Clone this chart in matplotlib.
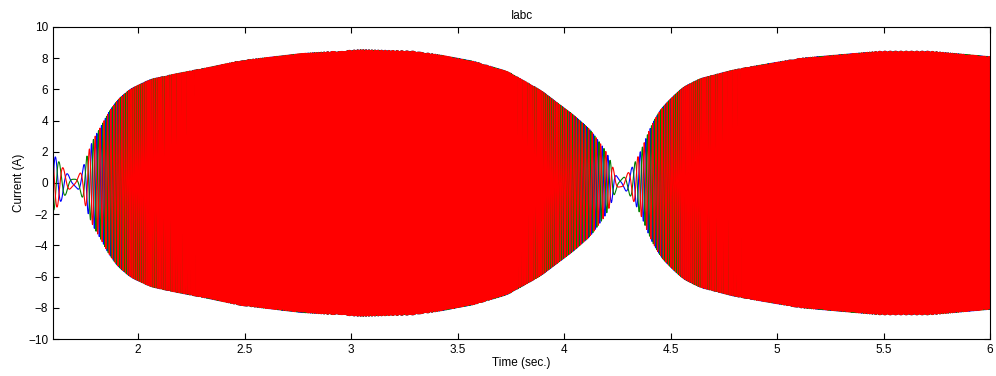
import numpy as np
import matplotlib.pyplot as plt

plt.rcParams['font.family'] = ['Liberation Sans', 'DejaVu Sans']

# envelope (peak current, A)
t_knots = [1.60, 1.65, 1.70, 1.74, 1.78, 1.827, 1.859, 1.906, 1.967, 2.061, 2.169, 2.328,
           2.483, 2.764, 3.046, 3.30, 3.421, 3.576, 3.735, 3.89, 4.045, 4.124, 4.204,
           4.256, 4.312, 4.359, 4.406, 4.452, 4.50, 4.56, 4.64, 4.795, 4.875, 5.109,
           5.484, 5.719, 6.00]
amp_knots = [1.95, 0.9, 0.05, 0.9, 2.6, 3.65, 4.5, 5.37, 6.06, 6.66, 6.98, 7.4,
             7.85, 8.3, 8.55, 8.45, 8.2, 7.8, 7.15, 5.95, 4.35, 3.4, 1.9,
             0.05, 0.8, 2.0, 3.6, 4.7, 5.4, 6.15, 6.7, 7.25, 7.45, 8.0,
             8.45, 8.45, 8.1]
# electrical frequency of the current (Hz), rough estimate
freq_knots = [22, 16, 10, 18, 35, 50, 65, 80, 100, 115, 125, 138,
              148, 160, 170, 168, 162, 152, 138, 115, 80, 60, 34,
              10, 18, 32, 55, 75, 90, 105, 115, 130, 135, 150,
              165, 165, 158]

fs = 4000
t = np.arange(1.6, 6.0 + 1 / fs, 1 / fs)
amp = np.interp(t, t_knots, amp_knots)
win = 161
amp = np.convolve(np.pad(amp, win // 2, mode='reflect'), np.ones(win) / win, mode='valid')
freq = np.interp(t, t_knots, freq_knots)
phase = 2 * np.pi * np.cumsum(freq) / fs

fig = plt.figure(figsize=(9.96, 3.76), dpi=100)
ax = fig.add_axes([0.0532, 0.0984, 0.9408, 0.8298])

colors = ['#0000ff', '#008000', '#ff0000']
for k, c in enumerate(colors):
    ax.plot(t, amp * np.sin(phase - k * 2 * np.pi / 3), color=c, lw=0.8)

ax.set_xlim(1.6, 6)
ax.set_ylim(-10, 10)
ax.set_xticks([2, 2.5, 3, 3.5, 4, 4.5, 5, 5.5, 6])
ax.set_xticklabels(['2', '2.5', '3', '3.5', '4', '4.5', '5', '5.5', '6'])
ax.set_yticks(range(-10, 11, 2))
ax.tick_params(direction='in', top=True, right=True, labelsize=8.5, length=4, width=0.8)
for s in ax.spines.values():
    s.set_linewidth(0.8)

ax.set_title('Iabc', fontsize=8.5)
ax.set_xlabel('Time (sec.)', fontsize=8.5, labelpad=1)
ax.set_ylabel('Current (A)', fontsize=8.5, labelpad=2)

fig.savefig('out.png', dpi=100)
